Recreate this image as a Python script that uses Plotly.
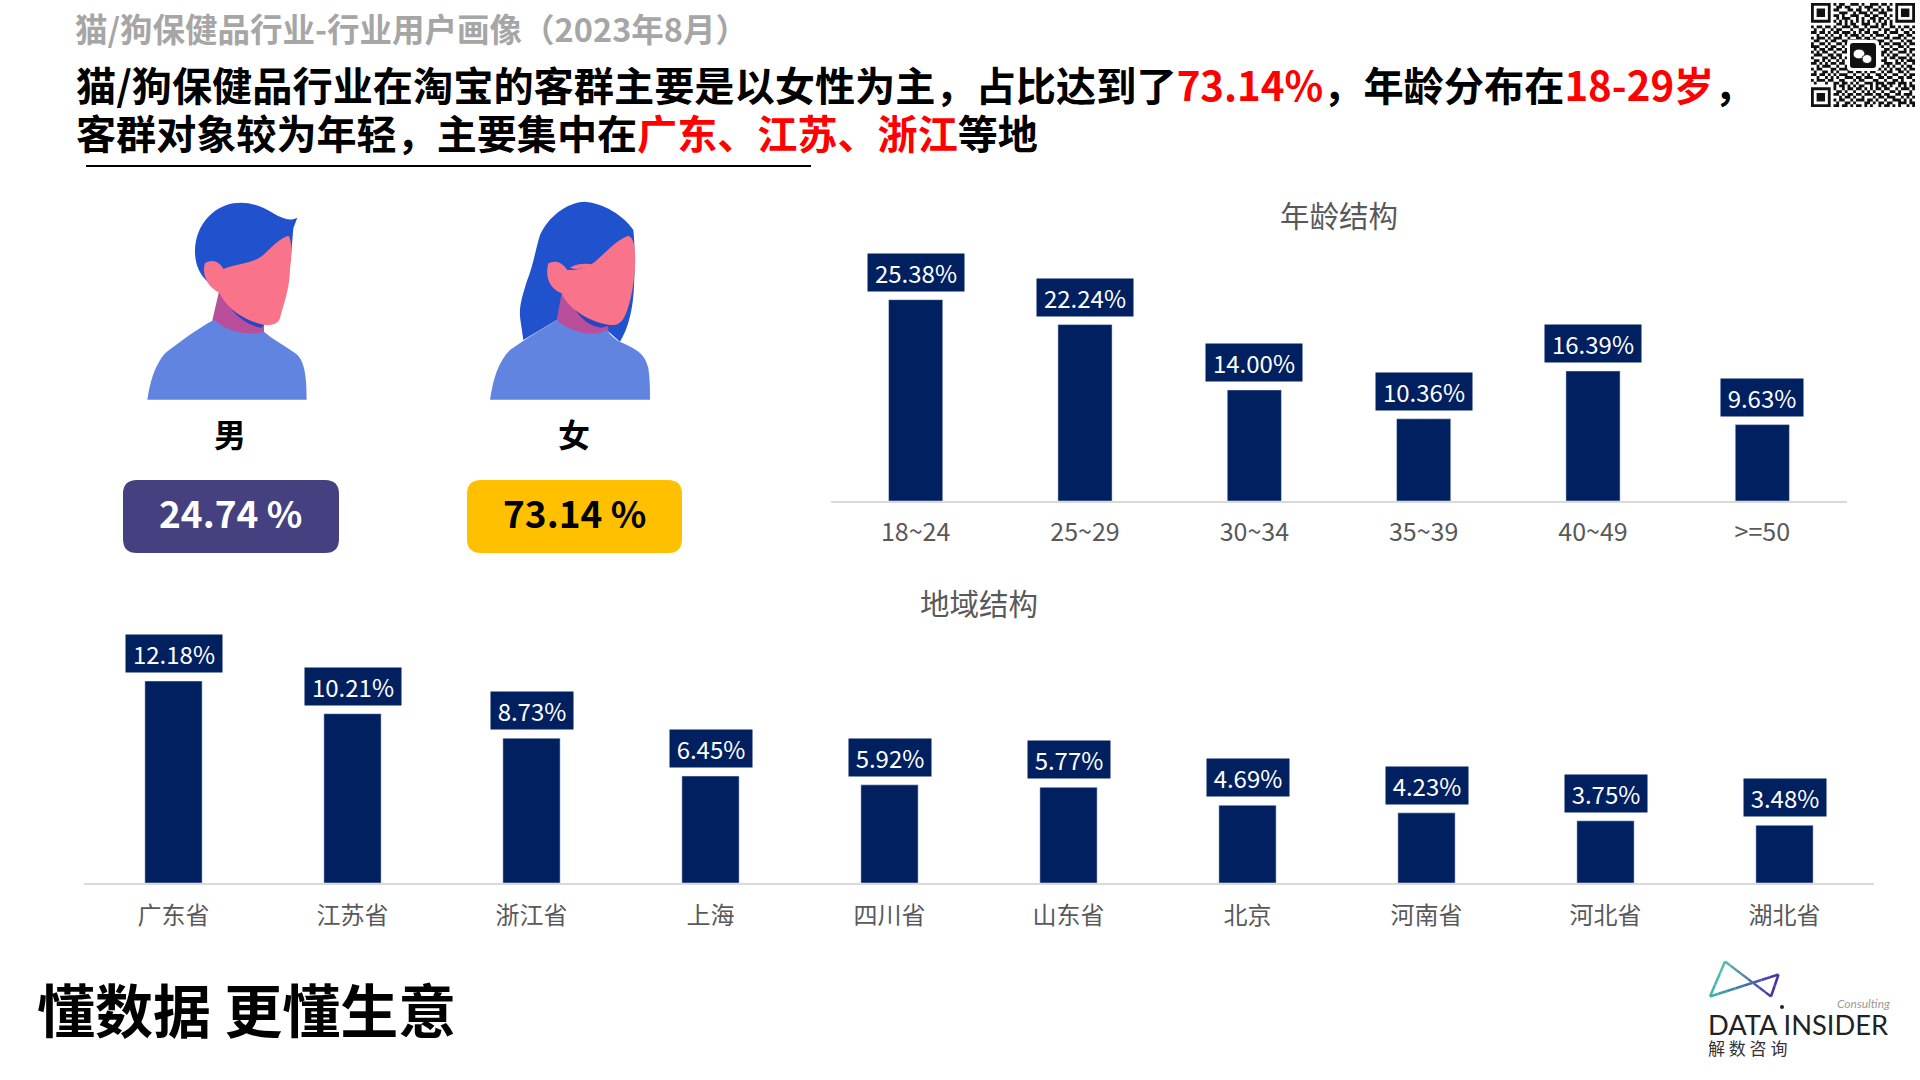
import re
import plotly.graph_objects as go

W = 1920
H = 1080
CJK = "Noto Sans CJK SC"
NAVY = "#002060"

# age chart
age_labels = ["18~24", "25~29", "30~34", "35~39", "40~49", ">=50"]
age_values = [25.38, 22.24, 14.00, 10.36, 16.39, 9.63]

# region chart
region_labels = ["广东省", "江苏省", "浙江省", "上海", "四川省", "山东省", "北京", "河南省", "河北省", "湖北省"]
region_values = [12.18, 10.21, 8.73, 6.45, 5.92, 5.77, 4.69, 4.23, 3.75, 3.48]

male_share = "24.74 %"
female_share = "73.14 %"

# qr modules
finder = ["1111111", "1000001", "1011101", "1011101", "1011101", "1000001", "1111111"]
qr_top = ["101100111010011101101", "011011000101110010010", "110001101100101101011",
          "001110010111010011100", "110100111001101100101", "010111001010011011010",
          "101010101010101010101"]
qr_row7 = "000000000110101100111001011010000000"
qr_mid = [
    "1011011010011101100101110100110101101",
    "0100100101100010011010001011001010010",
    "1101101011011101010110110010111001101",
    "0010010100101011101001011101000110110",
    "1011101011100100110110100011011101001",
    "0110010110011011001011011100100010110",
    "1001101001101100110000001011011101011",
    "1110010110010100000000000100100110100",
    "0101101101101000000000000011011001011",
    "1010110010011000000000000110100111010",
    "0111001101100000000000000101011000101",
    "1000110110101000000000000010110111010",
    "0110101001010000000000000110001010111",
    "1101010110110000000000000011101101001",
    "0010111001001000000000000101010010110",
    "1011000110111100000000011010101101011",
    "0100110101000110110101100101100110100",
    "1101101010111001001010011010011001011",
    "0010010101001110110111001101100110110",
    "1011101100110001011000110010011010001",
    "0100010011011010100111011101110111010",
    "0000000010110101011001010110100101011",
]
qr_bottom = ["10010110110101011011001011101",
             "01101001001010100100110100010",
             "11010110110111011011001101110",
             "00101101001000101101110010101",
             "10110010111011010010011101010",
             "01001101000110101101100111011",
             "11011010110101001011010100101"]

fig = go.Figure()
fig.add_trace(go.Bar(x=age_labels, y=age_values, marker_color=NAVY, xaxis="x", yaxis="y", hoverinfo="skip"))
fig.add_trace(go.Bar(x=region_labels, y=region_values, marker_color=NAVY, xaxis="x2", yaxis="y2", hoverinfo="skip"))


def px(x, y):
    return x / W, 1 - y / H


def scaled(path, ox, oy, k):
    # path is written in crop pixels, k is the crop zoom
    def conv(m):
        a, b = px(ox + float(m.group(1)) / k, oy + float(m.group(2)) / k)
        return f"{a:.5f},{b:.5f}"
    return re.sub(r"(-?[\d.]+),(-?[\d.]+)", conv, path)


def fill(path, color, ox=0, oy=0, k=1):
    return dict(type="path", xref="paper", yref="paper", path=scaled(path, ox, oy, k),
                fillcolor=color, line_width=0, layer="above")


def round_box(x0, y0, x1, y1, r):
    return (f"M{x0+r},{y0} L{x1-r},{y0} Q{x1},{y0} {x1},{y0+r} L{x1},{y1-r} Q{x1},{y1} {x1-r},{y1} "
            f"L{x0+r},{y1} Q{x0},{y1} {x0},{y1-r} L{x0},{y0+r} Q{x0},{y0} {x0+r},{y0} Z")


shapes = []
HAIR = "#1F52CC"
BODY = "#6084E0"
NECK = "#B94F9B"
CHIN = "#2A45C0"
FACE = "#F9748A"

# male figure
m = dict(ox=140, oy=195, k=3)
shapes += [
    fill("M238,285 L215,385 L260,440 L372,440 L372,380 Z", NECK, **m),
    fill("M262,325 C285,365 330,395 365,398 L375,385 Z", CHIN, **m),
    fill("M22,614 C30,560 45,510 75,475 C120,440 180,395 222,375 C260,410 330,425 372,410 C400,435 440,455 470,478 C495,500 500,550 500,614 Z", BODY, **m),
    fill("M472,68 C450,80 425,70 400,55 C360,30 320,18 280,25 C220,35 165,90 165,170 C165,210 180,240 205,262 L250,225 L452,195 L460,100 Z", HAIR, **m),
    fill("M445,122 C420,130 395,155 370,180 C340,205 290,205 250,222 C240,200 215,190 195,205 C185,235 200,275 238,293 C255,330 300,375 375,390 C400,392 415,385 420,370 C430,330 450,280 450,220 C457,180 455,130 445,122 Z", FACE, **m),
]

# female figure
f = dict(ox=480, oy=195, k=3)
shapes += [
    fill("M315,20 C260,22 205,65 180,120 C165,170 160,210 140,260 C125,310 115,340 122,380 L130,435 L230,375 L380,405 L420,440 C445,400 460,340 462,270 C465,220 465,150 460,105 C430,60 370,25 315,20 Z", HAIR, **f),
    fill("M245,295 L228,385 L260,440 L385,440 L385,380 Z", NECK, **f),
    fill("M280,335 C300,370 330,395 365,398 L395,390 Z", CHIN, **f),
    fill("M30,614 C40,550 55,500 90,465 C140,430 190,400 230,375 C270,410 340,430 380,405 C395,425 415,440 430,445 C470,465 495,475 505,520 C510,550 510,580 510,614 Z", BODY, **f),
    fill("M445,122 C410,135 385,165 345,200 C320,220 290,225 262,225 C245,200 225,195 205,205 C195,240 205,280 245,295 C260,335 320,380 390,390 C420,392 430,375 440,350 C455,310 462,260 465,215 C467,170 465,130 445,122 Z", FACE, **f),
    fill("M270,218 C290,205 320,205 335,208 C315,222 290,225 270,218 Z", FACE, **f),
]

# share badges
shapes.append(fill(round_box(123, 480, 339, 553, 14), "#45407F"))
shapes.append(fill(round_box(467, 480, 682, 553, 14), "#FFC000"))

# rule under the headline
x0, y0 = px(86, 166)
x1, y1 = px(811, 166)
shapes.append(dict(type="line", xref="paper", yref="paper", x0=x0, y0=y0, x1=x1, y1=y1,
                   line=dict(color="black", width=2)))

# qr code
rows = []
for i in range(7):
    rows.append(finder[i] + "0" + qr_top[i] + "0" + finder[i])
rows.append(qr_row7)
rows += qr_mid
for i in range(7):
    rows.append(finder[i] + "0" + qr_bottom[i])
QR_X = 1811
QR_Y = 3
MOD = 104 / 37
qr_path = ""
for r, row in enumerate(rows):
    row = row[:37].ljust(37, "0")
    for c, bit in enumerate(row):
        if bit == "1":
            a, b = QR_X + c * MOD, QR_Y + r * MOD
            qr_path += f"M{a:.2f},{b:.2f} L{a+MOD:.2f},{b:.2f} L{a+MOD:.2f},{b+MOD:.2f} L{a:.2f},{b+MOD:.2f} Z "
shapes.append(fill(qr_path, "#111111"))
shapes.append(fill(round_box(1847, 40, 1879, 71, 4), "white"))
shapes.append(fill(round_box(1850, 43, 1876, 68, 3), "#111111"))
for cx, cy, rx, ry in [(1859, 54, 6, 5), (1867, 59, 5, 4.5)]:
    a0, b0 = px(cx - rx, cy - ry)
    a1, b1 = px(cx + rx, cy + ry)
    shapes.append(dict(type="circle", xref="paper", yref="paper", x0=a0, y0=b0, x1=a1, y1=b1,
                       fillcolor="white", line=dict(color="#111111", width=1), layer="above"))


# logo lines, split up to fake the gradient
def hex_mix(c0, c1, t):
    p = [int(c0[i:i+2], 16) for i in (1, 3, 5)]
    q = [int(c1[i:i+2], 16) for i in (1, 3, 5)]
    return "#" + "".join(f"{round(a + (b - a) * t):02x}" for a, b in zip(p, q))


def logo_line(a, b, c0, c1, n=8):
    for i in range(n):
        t0, t1 = i / n, (i + 1) / n
        xa, ya = px(a[0] + (b[0] - a[0]) * t0, a[1] + (b[1] - a[1]) * t0)
        xb, yb = px(a[0] + (b[0] - a[0]) * t1, a[1] + (b[1] - a[1]) * t1)
        shapes.append(dict(type="line", xref="paper", yref="paper", x0=xa, y0=ya, x1=xb, y1=yb,
                           line=dict(color=hex_mix(c0, c1, (t0 + t1) / 2), width=2.5)))


LA = (1725, 961.5)
LB = (1710, 996.5)
LC = (1778.5, 974.5)
LD = (1771, 996.5)
logo_line(LA, LB, "#55BFB0", "#3FB6A8", 3)
logo_line(LB, LC, "#3FB6A8", "#4A2FA6")
logo_line(LA, LD, "#55BFB0", "#4A2FA6")
logo_line(LC, LD, "#4A2FA6", "#4A2FA6", 2)
dot0 = px(1780, 1005)
dot1 = px(1784, 1009)
shapes.append(dict(type="circle", xref="paper", yref="paper", x0=dot0[0], y0=dot0[1], x1=dot1[0], y1=dot1[1],
                   fillcolor="#222222", line_width=0))


def note(text, x, y, size, color="#000000", anchor="left", family=CJK):
    a, b = px(x, y)
    return dict(text=text, xref="paper", yref="paper", x=a, y=b, xanchor=anchor, yanchor="middle",
                showarrow=False, borderpad=0, font=dict(family=family, size=size, color=color))


RED = "<span style='color:#FF0000'>{}</span>"
annotations = [
    note("<b>猫/狗保健品行业-行业用户画像（2023年8月）</b>", 74, 27.5, 32.5, "#A6A6A6"),
    note("<b>猫/狗保健品行业在淘宝的客群主要是以女性为主，占比达到了" + RED.format("73.14%") + "，年龄分布在" + RED.format("18-29岁") + "，</b>", 74.5, 83.5, 40.2),
    note("<b>客群对象较为年轻，主要集中在" + RED.format("广东、江苏、浙江") + "等地</b>", 74.5, 131.5, 40.1),
    note("<b>男</b>", 230, 433, 32, anchor="center"),
    note("<b>女</b>", 574, 433, 32, anchor="center"),
    note("<b>" + male_share + "</b>", 230, 512.5, 37, "#FFFFFF", "center"),
    note("<b>" + female_share + "</b>", 574, 512.5, 37, "#000000", "center"),
    note("年龄结构", 1339, 214.5, 29.5, "#595959", "center"),
    note("地域结构", 979, 602, 29.5, "#595959", "center"),
    note("<b>懂数据 更懂生意</b>", 36, 1008, 58),
    note("DATA INSIDER", 1707, 1024, 27.3, "#222222", family="Lato"),
    note("<i>Consulting</i>", 1836, 1003, 12, "#999999", family="Lato"),
    note("解 数 咨 询", 1707, 1047, 17, "#333333"),
]

# value tags over the bars
for xref, yref, labels, values in [("x", "y", age_labels, age_values), ("x2", "y2", region_labels, region_values)]:
    for lab, val in zip(labels, values):
        text = f"{val:.2f}%"
        annotations.append(dict(text=text, x=lab, y=val, xref=xref, yref=yref, xanchor="center", yanchor="bottom",
                                yshift=8, showarrow=False, bgcolor=NAVY, borderpad=1, height=35, valign="top",
                                width=94 if len(text) > 5 else 80,
                                font=dict(family=CJK, size=24, color="white")))

axis_style = dict(type="category", showgrid=False, zeroline=False, showline=True, linecolor="#D9D9D9", linewidth=2,
                  ticks="outside", ticklen=0)

fig.update_layout(
    width=W,
    height=H,
    margin=dict(l=0, r=0, t=0, b=0),
    paper_bgcolor="white",
    plot_bgcolor="white",
    showlegend=False,
    bargap=0.68,
    hovermode=False,
    xaxis=dict(domain=[831 / W, 1847 / W], anchor="y", categoryorder="array", categoryarray=age_labels,
               tickfont=dict(family=CJK, size=25, color="#595959"), ticklabelstandoff=8, **axis_style),
    yaxis=dict(domain=[1 - 501 / H, 1 - 240 / H], anchor="x", range=[0, 32.9], visible=False),
    xaxis2=dict(domain=[84 / W, 1874 / W], anchor="y2", categoryorder="array", categoryarray=region_labels,
                tickfont=dict(family=CJK, size=24, color="#595959"), ticklabelstandoff=10, **axis_style),
    yaxis2=dict(domain=[1 - 883 / H, 1 - 620 / H], anchor="x2", range=[0, 15.86], visible=False),
    shapes=shapes,
    annotations=annotations,
)

fig.write_html("out.html", config=dict(displayModeBar=False),
               post_script="document.body.style.margin='0';")
